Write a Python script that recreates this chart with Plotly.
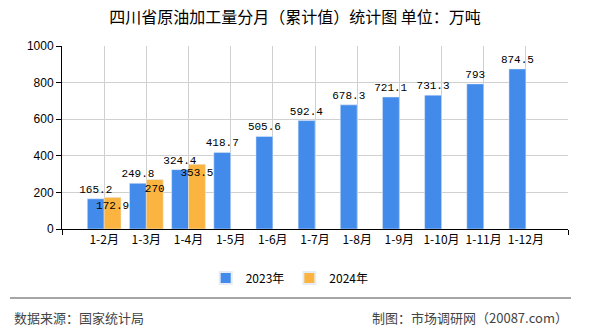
import plotly.graph_objects as go

categories = ["1-2月", "1-3月", "1-4月", "1-5月", "1-6月", "1-7月",
              "1-8月", "1-9月", "1-10月", "1-11月", "1-12月"]
values_2023 = [165.2, 249.8, 324.4, 418.7, 505.6, 592.4, 678.3, 721.1, 731.3, 793, 874.5]
values_2024 = [172.9, 270, 353.5, None, None, None, None, None, None, None, None]
y_ticks = [0, 200, 400, 600, 800, 1000]

xpos = list(range(1, len(categories) + 1))

def fmt(v):
    if v is None:
        return ""
    return ("%g" % v)

num_font = dict(family="Liberation Mono, DejaVu Sans Mono, monospace", size=11, color="black")
cjk = "Noto Sans CJK SC, sans-serif"

fig = go.Figure()
fig.add_trace(go.Bar(
    x=xpos, y=values_2023, name="2023年", marker_color="#428BEB",
    text=[fmt(v) for v in values_2023], textposition="outside",
    textfont=num_font, outsidetextfont=num_font, textangle=0,
    constraintext="none", cliponaxis=False,
))
fig.add_trace(go.Bar(
    x=xpos, y=values_2024, name="2024年", marker_color="#FBB440",
    text=[fmt(v) for v in values_2024], textposition="inside",
    insidetextanchor="end", textfont=num_font, insidetextfont=num_font,
    textangle=0, constraintext="none", cliponaxis=False,
))

n = len(categories)
fig.update_layout(
    width=590, height=330,
    margin=dict(l=62, r=22, t=46, b=101),
    paper_bgcolor="white", plot_bgcolor="white",
    barmode="group", bargap=0.2, bargroupgap=0,
    title=dict(text="四川省原油加工量分月（累计值）统计图 单位：万吨",
               x=0.5, xanchor="center", y=1 - 17 / 330, yanchor="middle",
               font=dict(family=cjk, size=16, color="black")),
    showlegend=True,
    legend=dict(orientation="h", x=0.45, xanchor="center", y=-0.268, yanchor="middle",
                font=dict(family=cjk, size=12, color="black"),
                itemsizing="constant", traceorder="normal"),
    font=dict(family=cjk, size=12, color="black"),
)
fig.update_xaxes(
    range=[0, n + 1], tickmode="array", tickvals=xpos, ticktext=categories,
    showgrid=True, gridcolor="#d0d0d0", gridwidth=1,
    showline=True, linecolor="black", linewidth=1, ticks="",
    tickfont=dict(family=cjk, size=12, color="black"),
    minor=dict(tickmode="array", tickvals=[0, n + 1], ticks="outside", ticklen=5,
               tickcolor="black", showgrid=True, gridcolor="#d0d0d0"),
    zeroline=False, fixedrange=True,
)
fig.update_yaxes(
    range=[0, 1000], tickmode="array", tickvals=y_ticks,
    showgrid=True, gridcolor="#d0d0d0", gridwidth=1,
    showline=True, linecolor="black", linewidth=1,
    ticks="outside", ticklen=5, tickcolor="black",
    tickfont=dict(family="Liberation Sans, Arial, sans-serif", size=12, color="black"),
    zeroline=False, fixedrange=True,
)

fig.add_shape(type="line", xref="paper", yref="paper",
              x0=(10 - 62) / 506, x1=(571 - 62) / 506,
              y0=(229 - 298) / 183, y1=(229 - 298) / 183,
              line=dict(color="#888888", width=1.5))
fig.add_annotation(text="数据来源：国家统计局", xref="paper", yref="paper",
                   x=(12 - 62) / 506, y=(229 - 317) / 183, xanchor="left", yanchor="middle",
                   showarrow=False, font=dict(family=cjk, size=13, color="#444444"))
fig.add_annotation(text="制图：市场调研网（20087.com）", xref="paper", yref="paper",
                   x=(570 - 62) / 506, y=(229 - 317) / 183, xanchor="right", yanchor="middle",
                   showarrow=False, font=dict(family=cjk, size=13, color="#444444"))

fig.write_html("out.html")
